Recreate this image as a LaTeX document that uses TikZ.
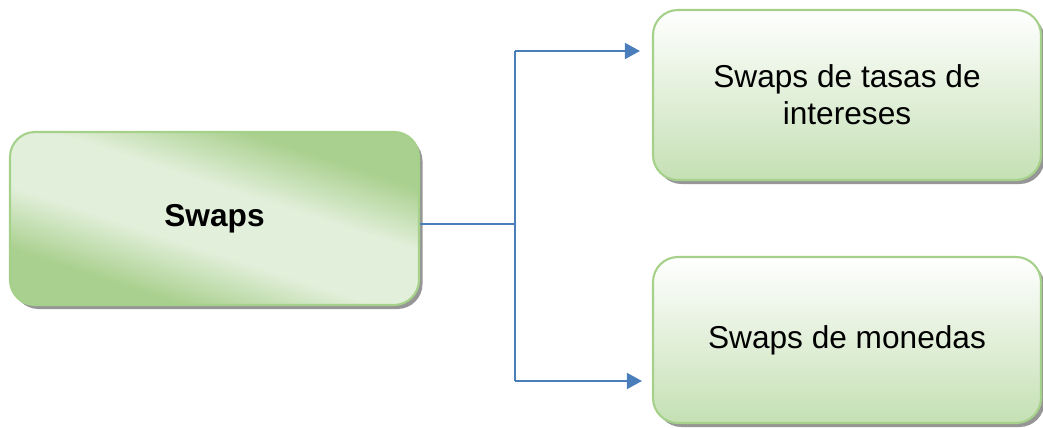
\documentclass[tikz,border=0pt]{standalone}
\usepackage{fontspec}
\setmainfont{Liberation Sans}
\usepackage{tikz}
\usetikzlibrary{arrows.meta,shadows,positioning,calc}
\definecolor{gDark}{HTML}{A9D08E}
\definecolor{gLight}{HTML}{E2EFDA}
\definecolor{gEdge}{HTML}{A6D18A}
\definecolor{gBottom}{HTML}{C5E0B4}
\definecolor{linkBlue}{HTML}{4A7EBB}
\pgfdeclarehorizontalshading{diaggreen}{100bp}{color(0bp)=(gDark); color(30bp)=(gDark); color(43bp)=(gLight); color(57bp)=(gLight); color(70bp)=(gDark); color(100bp)=(gDark)}

\begin{document}
\begin{tikzpicture}[box/.style={rectangle, rounded corners=0.5cm, draw=gEdge, line width=1.2pt, align=center, font=\fontsize{18}{21}\selectfont, drop shadow={shadow xshift=0.07cm, shadow yshift=-0.08cm, fill=black!55, opacity=0.75}},
  link/.style={draw=linkBlue, line width=1pt}]
\useasboundingbox (0,0) rectangle (20.86,-8.54);
\node (a) at (4.29,-4.37) [box, shading=diaggreen, shading angle=72, minimum width=8.18cm, minimum height=3.46cm, font=\fontsize{18}{21}\selectfont\bfseries] {Swaps};
\node (b) at (16.94,-1.9) [box, top color=white, bottom color=gBottom, minimum width=7.76cm, minimum height=3.4cm] {Swaps de tasas de\\intereses};
\node (c) at (16.94,-6.8) [box, top color=white, bottom color=gBottom, minimum width=7.76cm, minimum height=3.32cm] {Swaps de monedas};
\coordinate (m) at (10.3,-4.48);
\coordinate (mt) at (10.3,-1.02);
\coordinate (mb) at (10.3,-7.62);
\draw [link] (a.east |- m) -- (m);
\draw [link] (mt) -- (mb);
\draw [link, -{Triangle[length=0.3cm, width=0.32cm]}, shorten >=0.24cm] (mt) -- (b.west |- mt);
\draw [link, -{Triangle[length=0.3cm, width=0.32cm]}, shorten >=0.2cm] (mb) -- (c.west |- mb);
\end{tikzpicture}
\end{document}
